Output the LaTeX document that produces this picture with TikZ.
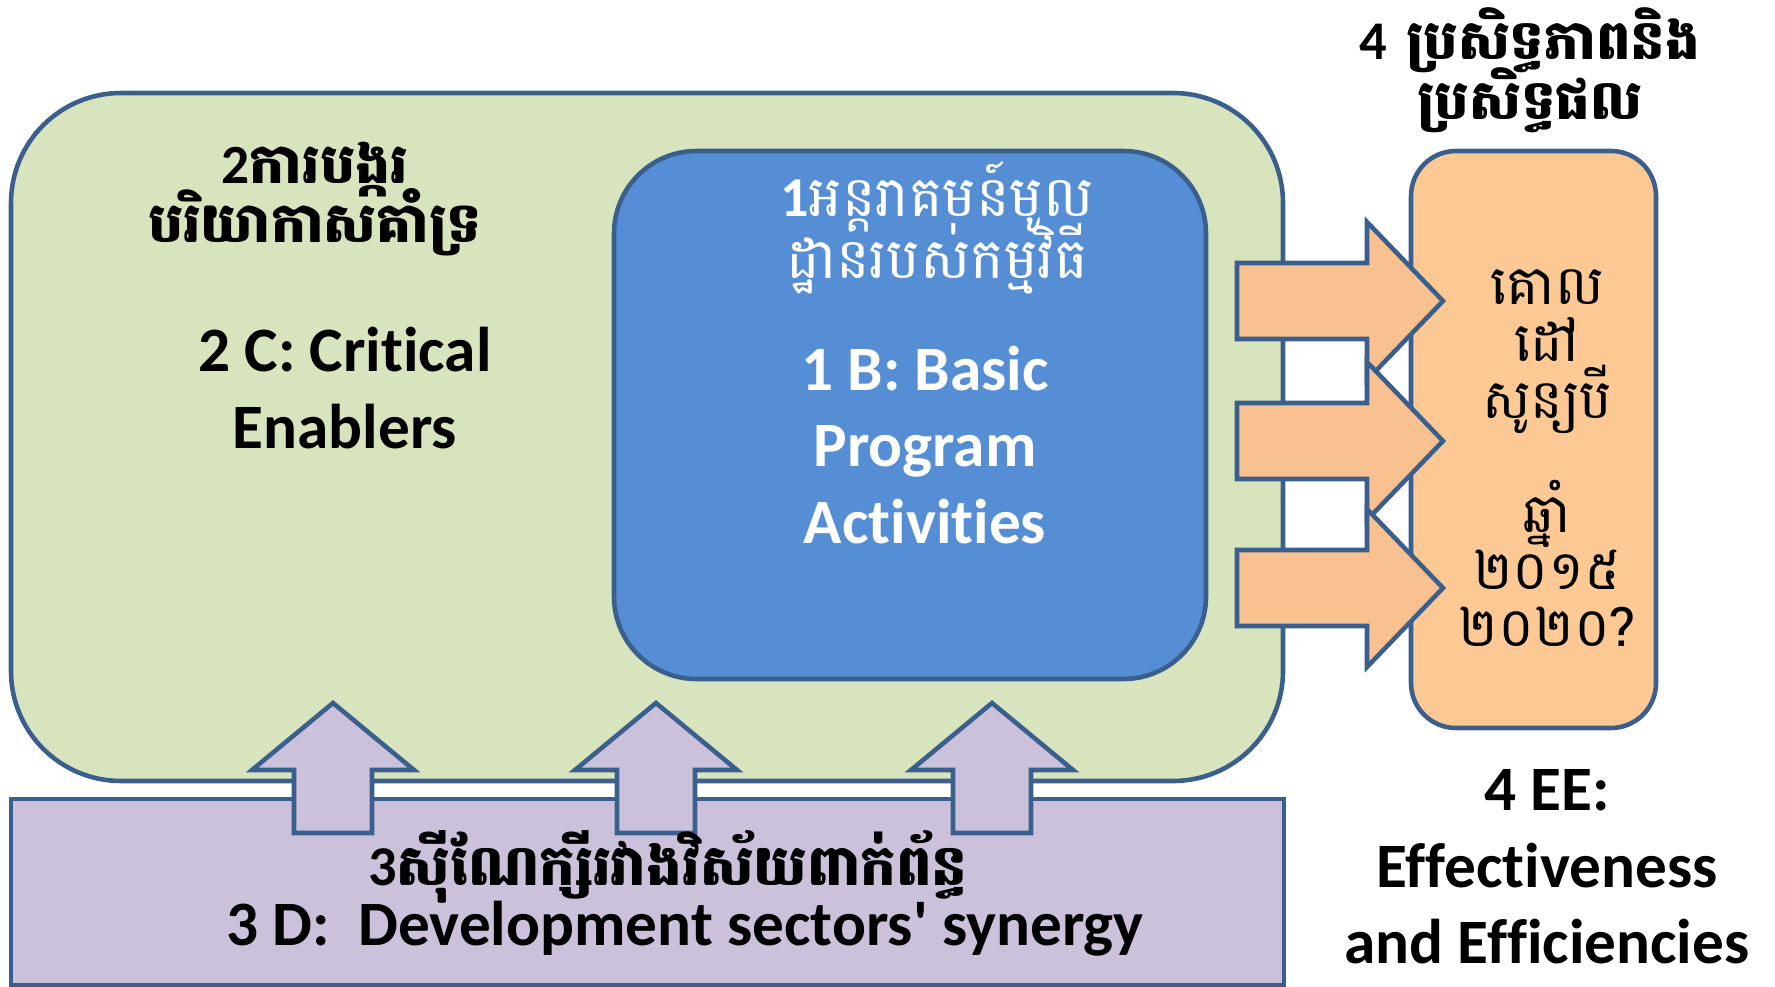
\documentclass[tikz,border=0pt]{standalone}
\usepackage{fontspec}
\setmainfont{Carlito}[Ligatures=NoCommon]
\newfontfamily\khmer[Script=Khmer]{Battambang}
\usepackage{tikz}

\definecolor{edge}{HTML}{3A5F8D}
\definecolor{sage}{HTML}{D7E4BD}
\definecolor{skyblue}{HTML}{558ED5}
\definecolor{peach}{HTML}{FCC995}
\definecolor{peacharrow}{HTML}{F9C18F}
\definecolor{lilac}{HTML}{CCC1DA}

\newcommand\khsize[2]{\fontsize{#1}{#2}\selectfont\khmer\lineskiplimit-100pt\relax}

\tikzset{
  box/.style={draw=edge,line width=2.6pt},
  engtxt/.style={align=center,inner sep=0pt,font=\fontsize{36}{43.6}\selectfont\bfseries},
  khtxt/.style={align=center,inner sep=0pt,font=\khsize{32}{30}}
}

\begin{document}
\begin{tikzpicture}[x=0.02cm,y=-0.02cm]
        \useasboundingbox (0,0) rectangle (1775,987);
        % the four blocks
        \draw[box,fill=sage,rounded corners=2.2cm] (11,93) rectangle (1283,781);
        \draw[box,fill=lilac] (11,799) rectangle (1284,985);
        \draw[box,fill=skyblue,rounded corners=1.65cm] (614,151) rectangle (1206,679);
        \draw[box,fill=peach,rounded corners=0.9cm] (1411,151) rectangle (1656,728);
        % arrows up from D
        \foreach \cx in {333,656,992}
        {
            \draw[box,fill=lilac] (\cx-39,833)--(\cx-39,770)--(\cx-81,770)--(\cx,703)
                --(\cx+81,770)--(\cx+39,770)--(\cx+39,833)--cycle;
        }
        % arrows right to EE
        \foreach \cy in {301,441,588}
        {
            \draw[box,fill=peacharrow] (1237,\cy-38)--(1367,\cy-38)--(1367,\cy-79)--(1443,\cy)
                --(1367,\cy+79)--(1367,\cy+38)--(1237,\cy+38)--cycle;
        }
        % texts
        \node[khtxt,font={\khsize{31.5}{34}\bfseries}] (ckh) at (315,199)
            {{\normalfont\bfseries 2}ការបង្ករ\\បរិយាកាសគាំទ្រ};
        \node[engtxt] (cen) at (345,388) {2 C: Critical\\Enablers};
        \node[khtxt,text=white,font={\khsize{32}{35.5}}] (bkh) at (937,228)
            {{\normalfont\bfseries 1}អន្តរាគមន៍មូល\\ដ្ឋានរបស់កម្មវិធី};
        \node[khtxt,font={\khsize{31}{34}\bfseries}] (eekh) at (1530,70)
            {{\normalfont\bfseries 4} ប្រសិទ្ធភាពនិង\\ប្រសិទ្ធផល};
        \node[engtxt,text=white] (ben) at (925,445) {1 B: Basic\\Program\\Activities};
        \node[khtxt,font={\khsize{31}{32.5}}] (goal) at (1547,458)
            {គោល\\ដៅ\\សូន្យបី\\[32.5pt]ឆ្នាំ\\២០១៥\\២០២០?};
        \node[engtxt] (eeen) at (1547,867) {4 EE:\\Effectiveness\\and Efficiencies};
        \node[khtxt,font={\khsize{32}{30}\bfseries}] (dkh) at (668,867)
            {{\normalfont\bfseries 3}ស៊ីណែក្សីរវាងវិស័យពាក់ព័ន្ធ};
        \node[engtxt] (den) at (685,929) {3 D:\ \ Development sectors\textquotesingle{} synergy};
    \end{tikzpicture}
\end{document}
